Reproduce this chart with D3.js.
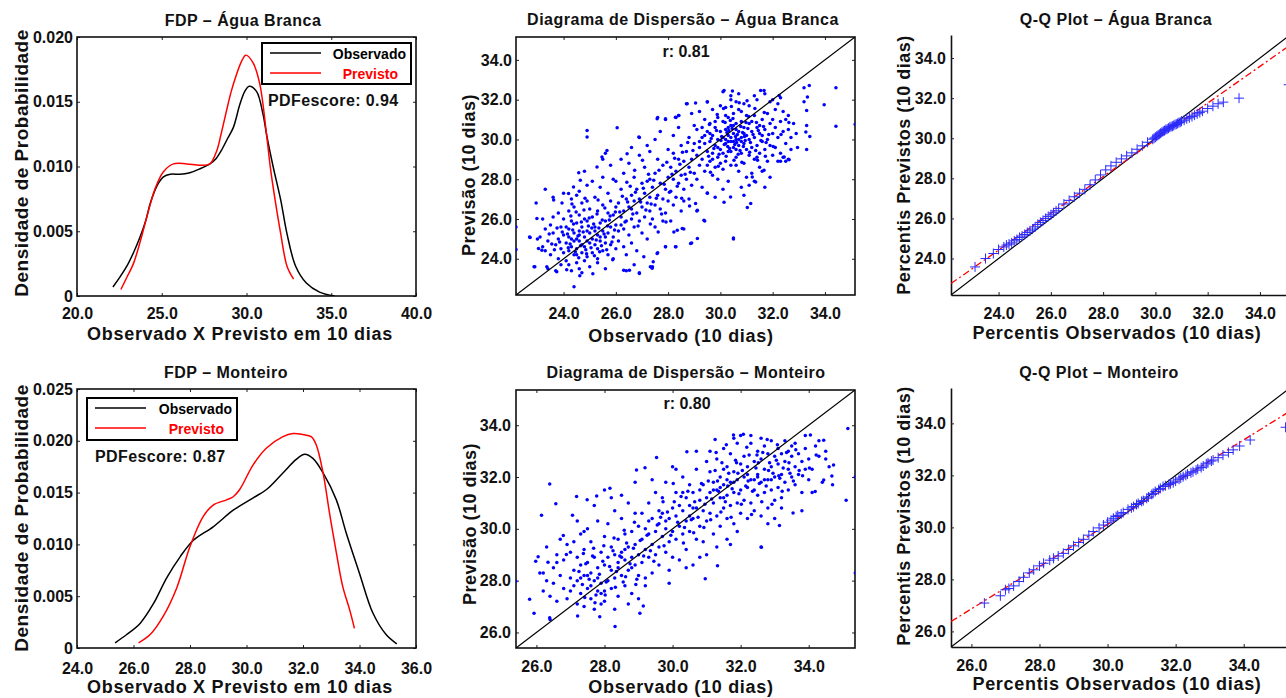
<!DOCTYPE html>
<html>
<head>
<meta charset="utf-8">
<script src="https://cdn.jsdelivr.net/npm/d3@7"></script>
<style>
body { margin: 0; background: #fff; }
</style>
</head>
<body>
<script>
// ---------- data ----------
var stations = ["Água Branca", "Monteiro"];
var legendLabels = ["Observado", "Previsto"];
var pdfScores = [0.94, 0.87];
var corrR = [0.81, 0.80];

// FDP curves: [temperatura, densidade]
var fdpAbObs = [[22.12,0.0007],[22.5,0.0014],[22.94,0.0023],[23.35,0.0034],[23.73,0.0046],[24.05,0.0058],[24.31,0.0071],[24.55,0.0080],[24.8,0.0087],[25.1,0.0092],[25.5,0.0094],[26.08,0.0094],[26.6,0.0095],[27.2,0.0098],[27.84,0.0102],[28.2,0.0106],[28.5,0.0112],[28.9,0.0122],[29.22,0.0130],[29.61,0.0148],[29.9,0.0158],[30.16,0.0162],[30.59,0.0158],[30.98,0.0140],[31.18,0.0125],[31.57,0.0100],[32.02,0.0074],[32.39,0.0048],[32.9,0.0023],[33.53,0.0010],[34.31,0.0003],[35.2,0.0000]];
var fdpAbPrev = [[22.59,0.0005],[23.0,0.0016],[23.33,0.0025],[23.75,0.0043],[24.12,0.0061],[24.61,0.0083],[25.1,0.0096],[25.69,0.0102],[26.47,0.0102],[27.25,0.0101],[27.84,0.0102],[28.24,0.0112],[28.5,0.0125],[28.82,0.0143],[29.1,0.0158],[29.41,0.0171],[29.7,0.0181],[29.96,0.0186],[30.39,0.0180],[30.78,0.0164],[31.18,0.0125],[31.41,0.0099],[31.69,0.0074],[32.02,0.0048],[32.39,0.0023],[32.78,0.0013]];
var fdpMoObs = [[25.35,0.0005],[25.76,0.0013],[26.24,0.0024],[26.71,0.0043],[27.18,0.0068],[27.65,0.0088],[28.12,0.0104],[28.82,0.0117],[29.53,0.0133],[30.24,0.0145],[30.71,0.0153],[31.29,0.0169],[31.76,0.0182],[32.06,0.0187],[32.35,0.0183],[32.71,0.0169],[33.18,0.0143],[33.53,0.0111],[34.0,0.0072],[34.47,0.0034],[34.94,0.0013],[35.32,0.0004]];
var fdpMoPrev = [[26.18,0.0005],[26.59,0.0013],[27.06,0.0031],[27.53,0.0058],[28.0,0.0098],[28.47,0.0127],[28.82,0.0138],[29.29,0.0143],[29.53,0.0146],[29.76,0.0153],[30.24,0.0177],[30.71,0.0193],[31.29,0.0204],[31.65,0.0207],[32.0,0.0206],[32.29,0.0204],[32.47,0.0196],[32.71,0.0169],[32.94,0.0130],[33.18,0.0092],[33.41,0.0059],[33.65,0.0037],[33.82,0.0019]];

// dispersao: [observado, previsto]
var scatAb = [
[23.1,25.1],[23.2,24.6],[23.3,24.4],[23.3,25.5],[23.4,24.9],[23.4,23.5],[23.5,25.7],[23.5,24.2],[23.6,25.3],[23.6,26.1],[23.7,24.7],[23.7,23.4],[23.8,25.0],[23.8,26.3],[23.8,24.0],[23.9,25.6],[23.9,24.5],[23.9,23.7],[24.0,26.0],[24.0,25.2],[24.0,24.3],[24.0,27.3],[23.6,27.1],[23.2,26.0],[23.0,25.0],[22.9,23.6],[22.7,25.1],
[24.1,24.8],[24.1,25.6],[24.1,23.9],[24.2,25.1],[24.2,26.4],[24.2,24.4],[24.3,25.9],[24.3,24.6],[24.3,23.4],[24.3,27.0],[24.4,25.3],[24.4,24.2],[24.4,26.6],[24.4,22.6],[24.5,25.0],[24.5,24.5],[24.5,25.8],[24.5,23.8],[24.6,26.2],[24.6,24.9],[24.6,25.4],[24.6,27.4],[24.7,24.3],[24.7,25.6],[24.7,23.3],[24.7,26.8],[24.8,25.1],[24.8,24.6],[24.8,26.0],[24.8,28.4],[24.9,25.4],[24.9,24.1],[24.9,25.9],[24.9,26.9],[25.0,24.8],[25.0,25.3],[25.0,23.6],[25.0,26.5],[24.2,25.5],[24.5,24.2],[24.7,24.7],[24.9,24.9],[24.3,25.0],[24.6,25.2],[24.4,24.9],[24.8,23.9],[24.6,23.5],[24.2,23.7],[24.9,27.7],[24.5,27.2],
[25.1,25.0],[25.1,24.3],[25.1,26.1],[25.2,24.7],[25.2,25.6],[25.2,27.1],[25.3,24.5],[25.3,25.2],[25.3,26.4],[25.3,23.8],[25.4,24.9],[25.4,25.8],[25.4,27.6],[25.5,24.4],[25.5,25.4],[25.5,26.7],[25.5,29.0],[25.6,24.8],[25.6,25.9],[25.6,23.5],[25.7,25.3],[25.7,26.3],[25.7,24.2],[25.7,27.3],[25.8,25.6],[25.8,24.7],[25.8,26.9],[25.9,25.1],[25.9,26.2],[25.9,28.0],[26.0,25.7],[26.0,24.5],[26.0,26.6],[26.0,27.9],[25.2,25.4],[25.4,25.1],[25.6,25.1],[25.3,24.0],[25.9,24.0],[25.5,28.1],[25.1,27.9],[25.8,28.7],[25.6,29.3],
[26.1,25.4],[26.1,26.8],[26.1,24.9],[26.2,26.1],[26.2,27.5],[26.2,25.7],[26.3,26.4],[26.3,24.6],[26.3,28.3],[26.4,25.9],[26.4,27.0],[26.4,23.4],[26.5,26.6],[26.5,25.2],[26.5,28.8],[26.6,27.2],[26.6,26.0],[26.6,24.8],[26.7,26.9],[26.7,25.6],[26.7,28.1],[26.8,27.5],[26.8,26.3],[26.8,24.4],[26.9,27.0],[26.9,25.9],[26.9,29.2],[27.0,26.6],[27.0,27.8],[27.0,25.3],[26.2,29.0],[26.6,29.6],[26.9,30.1],[26.4,24.2],[26.7,23.7],[26.9,23.3],[26.3,25.5],[26.6,26.5],
[27.1,27.3],[27.1,26.1],[27.1,28.6],[27.2,26.8],[27.2,25.0],[27.2,27.9],[27.3,27.1],[27.3,26.4],[27.3,29.4],[27.4,26.0],[27.4,27.6],[27.4,23.6],[27.5,26.7],[27.5,28.3],[27.5,25.6],[27.6,27.2],[27.6,29.0],[27.6,24.3],[27.7,26.5],[27.7,27.8],[27.7,30.4],[27.8,27.0],[27.8,25.9],[27.8,28.7],[27.9,26.3],[27.9,27.5],[27.9,24.6],[28.0,28.1],[28.0,26.9],[28.0,29.5],[27.3,28.0],[27.5,30.0],[27.9,31.0],[27.6,31.1],[27.2,29.7],
[28.1,27.4],[28.1,28.6],[28.1,25.9],[28.2,28.0],[28.2,29.3],[28.2,26.7],[28.3,28.4],[28.3,27.1],[28.3,24.6],[28.4,29.0],[28.4,27.8],[28.4,30.6],[28.5,28.2],[28.5,26.4],[28.5,29.7],[28.6,27.5],[28.6,28.9],[28.6,25.5],[28.7,29.4],[28.7,28.0],[28.7,31.8],[28.8,27.0],[28.8,28.6],[28.8,30.1],[28.9,29.0],[28.9,27.7],[28.9,24.8],[29.0,28.3],[29.0,29.8],[29.0,30.7],[28.4,31.2],[28.3,31.1],[28.9,31.3],[28.6,26.9],[28.2,30.2],
[29.1,29.2],[29.1,28.0],[29.1,30.5],[29.1,26.4],[29.2,29.6],[29.2,28.7],[29.2,31.4],[29.3,29.0],[29.3,30.1],[29.3,27.6],[29.4,29.8],[29.4,28.4],[29.4,31.0],[29.4,25.9],[29.5,29.4],[29.5,30.4],[29.5,27.3],[29.5,31.9],[29.6,28.9],[29.6,29.9],[29.6,30.8],[29.7,29.3],[29.7,28.2],[29.7,30.2],[29.7,31.5],[29.8,29.7],[29.8,28.6],[29.8,30.6],[29.8,27.1],[29.9,29.1],[29.9,30.0],[29.9,31.1],[29.9,28.0],[30.0,29.5],[30.0,30.4],[30.0,28.8],[30.0,31.7],[29.3,30.6],[29.6,30.3],[29.9,29.6],[29.5,28.7],[29.2,29.9],[29.7,29.0],[29.4,30.2],[29.8,30.9],
[30.1,30.1],[30.1,29.3],[30.1,30.9],[30.1,28.5],[30.1,32.4],[30.2,29.8],[30.2,30.5],[30.2,28.9],[30.2,31.6],[30.3,30.2],[30.3,29.4],[30.3,31.1],[30.3,27.9],[30.4,29.9],[30.4,30.7],[30.4,28.7],[30.4,32.2],[30.5,30.3],[30.5,29.6],[30.5,31.3],[30.5,25.0],[30.6,30.0],[30.6,29.1],[30.6,30.8],[30.6,31.9],[30.7,29.7],[30.7,30.4],[30.7,28.4],[30.7,31.5],[30.8,30.1],[30.8,29.3],[30.8,30.9],[30.8,27.6],[30.9,29.8],[30.9,30.6],[30.9,31.8],[30.9,28.8],[31.0,30.2],[31.0,29.5],[31.0,31.2],[31.0,28.1],[30.2,30.0],[30.3,29.9],[30.4,30.1],[30.5,29.9],[30.6,30.5],[30.7,30.0],[30.8,29.9],[30.9,30.3],[30.4,29.4],[30.6,29.5],[30.3,30.6],[30.5,30.7],[30.2,31.2],[30.8,31.4],[30.6,28.7],[30.1,27.5],[30.9,27.2],[30.4,32.0],[30.7,32.3],
[31.1,30.0],[31.1,29.2],[31.1,30.8],[31.1,31.7],[31.2,29.6],[31.2,30.4],[31.2,28.3],[31.3,30.1],[31.3,29.0],[31.3,31.2],[31.3,27.9],[31.4,29.7],[31.4,30.6],[31.4,32.0],[31.5,30.3],[31.5,29.3],[31.5,28.6],[31.6,29.9],[31.6,31.0],[31.6,28.4],[31.7,30.5],[31.7,29.5],[31.7,32.3],[31.8,30.0],[31.8,28.9],[31.8,31.3],[31.9,29.7],[31.9,30.8],[31.9,28.1],[32.0,30.3],[32.0,29.2],[32.0,31.0],[31.2,30.9],[31.5,30.7],[31.4,29.1],[31.6,30.2],[31.1,27.7],[31.7,27.6],[31.9,31.9],[31.3,32.2],
[32.1,30.6],[32.1,29.6],[32.1,31.5],[32.2,30.1],[32.2,28.9],[32.3,30.9],[32.3,29.3],[32.3,32.1],[32.4,30.4],[32.4,29.1],[32.5,31.0],[32.5,29.8],[32.5,28.9],[32.6,30.5],[32.6,29.0],[32.6,31.2],[32.7,30.1],[32.7,29.5],[32.8,30.8],[32.2,31.8],[32.4,31.4],[32.0,32.0],[32.9,30.3],[32.3,28.9],
[34.42,32.6],[34.42,30.66],[35.16,30.76],[33.97,31.74],[33.4,32.71],[33.2,32.6],[33.33,32.13],[33.2,31.9],[33.3,31.46],[33.3,30.7],[33.42,30.15],[33.27,30.37],[33.3,29.5],[32.95,29.6],[32.63,28.98],[32.44,29.12],[31.16,26.78],[31.03,26.58],[30.5,25.05],[29.37,25.94],[29.12,25.02],[28.86,24.77],[24.9,30.45],[24.9,30.12],[26.05,30.59],[22.18,25.6],[22.18,24.47],[23.3,27.5],[22.95,26.8],[26.9,23.26],[26.3,23.43],[26.52,23.43],[27.32,23.6],[27.39,23.52],[22.72,25.07],[22.87,23.6],[23.74,23.35],[23.36,23.6],[28.28,24.6],[27.9,24.6],[28.35,25.44],[28.54,25.52],[27.58,24.27],[27.43,23.85],[27.07,24.1],[23.04,24.52],[23.17,24.43],[22.98,26.02],[31.35,27.86],[31.22,28.11],[31.67,28.45],[30.39,27.11],[30.14,26.84],[29.5,27.31],[29.12,26.44],[29.05,26.78],[31.67,32.46],[30.14,32.46],[30.46,32.43],[31.54,32.46],[32.25,32.21],[28.73,31.79],[29.05,31.83],[29.5,31.88],[27.9,31.04],[28.28,31.12],[28.41,31.2],[27.58,31.04],[26.88,30.12],[26.43,29.28],[25.66,29.45],[25.47,29.12],[25.28,28.62],[24.58,28.33],[24.64,27.95],[24.38,27.61],[24.19,27.28],[23.94,26.8],[23.62,26.95],
[24.15,25.25],[24.25,24.75],[24.35,25.45],[24.45,24.35],[24.55,25.15],[24.65,24.65],[24.75,25.35],[24.85,24.45],[24.95,25.65],[25.05,24.55],[25.15,25.75],[25.25,24.95],[25.35,25.55],[25.45,24.65],[25.55,25.25],[25.65,24.45],[25.75,25.95],[25.85,24.85],[25.95,25.45],[24.18,24.55],[24.28,26.15],[24.38,25.75],[24.48,26.35],[24.58,24.05],[24.68,25.85],[24.78,26.45],[24.88,24.25],[24.98,26.05],[25.08,25.55],[25.18,24.15],[25.28,26.25],[25.38,24.35],[25.48,25.95],[25.58,26.55],[25.68,25.65],[25.78,26.15],[25.88,23.95],[25.98,26.35],[23.85,24.85],[23.95,25.35],[23.75,25.55],[23.65,24.45],[23.55,24.75],[23.45,25.25],[24.12,23.45],[24.62,23.15],[25.12,23.25],[24.32,26.75],[24.82,27.05],[25.32,26.95],
[26.15,26.35],[26.25,27.15],[26.35,25.85],[26.45,26.85],[26.55,27.65],[26.65,26.25],[26.75,27.35],[26.85,25.65],[26.95,26.85],[27.05,27.55],[27.15,26.45],[27.25,28.25],[27.35,26.75],[27.45,27.95],[27.55,27.05],[27.65,28.45],[27.75,26.25],[27.85,27.75],[27.95,28.85],[28.05,27.35],[28.15,28.25],[28.25,29.05],[28.35,27.65],[28.45,28.75],[28.55,29.35],[28.65,28.25],[28.75,29.85],[28.85,28.35],[28.95,29.45],[26.42,27.85],[26.72,28.45],[27.02,28.95],[27.32,25.75],[27.62,25.35],[27.92,25.85],[28.22,25.35],[28.52,27.05],[28.82,26.65],
[29.55,29.15],[29.65,30.05],[29.75,29.55],[29.85,30.45],[29.95,29.25],[30.05,30.15],[30.15,29.75],[30.25,30.35],[30.35,29.55],[30.45,30.55],[30.55,29.75],[30.65,30.25],[30.75,29.45],[30.85,30.35],[30.95,29.95],[31.05,30.55],[31.15,29.85],[31.25,30.25],[31.35,29.45],[31.45,30.45],[31.55,29.95],[31.65,30.65],[31.75,29.85],[31.85,30.25],[29.58,30.75],[29.88,31.25],[30.18,30.85],[30.48,31.05],[30.78,30.65],[31.08,31.15],[31.38,30.85],[31.68,31.35],[29.62,28.35],[29.92,28.65],[30.22,29.15],[30.52,28.95],[30.82,28.85],[31.12,29.35],[31.42,28.95],[31.72,29.15],[32.02,29.65],[32.32,30.25],[32.62,30.85],[30.12,31.55],[30.42,31.65],[30.72,31.85],[31.02,31.95],[31.32,31.55],[30.28,29.65],[30.58,30.15],[30.88,29.65],[30.38,30.95],[30.68,29.25],[30.98,30.85],[30.02,29.95],[30.32,30.45],[30.62,29.85],[30.92,30.15]
];
var scatMo = [
[26.1,28.3],[26.2,27.6],[26.3,28.0],[26.4,27.4],[26.5,28.5],[26.5,27.9],[26.6,29.0],[26.6,27.2],[26.7,28.2],[26.8,27.7],[26.8,28.8],[26.9,27.3],[26.9,29.4],[27.0,28.1],[27.0,27.6],[27.0,29.1],[26.3,29.3],[26.7,29.6],[26.4,26.5],[26.6,28.7],
[27.1,28.4],[27.1,27.8],[27.1,29.5],[27.2,28.0],[27.2,27.1],[27.2,28.9],[27.3,28.6],[27.3,27.5],[27.3,29.8],[27.4,28.2],[27.4,27.0],[27.4,29.2],[27.5,28.7],[27.5,27.7],[27.5,30.0],[27.6,28.3],[27.6,27.3],[27.6,29.5],[27.7,28.0],[27.7,28.9],[27.7,26.9],[27.8,28.5],[27.8,27.6],[27.8,30.3],[27.9,27.9],[27.9,29.1],[27.9,27.1],[28.0,28.6],[28.0,27.6],[28.0,29.7],[27.3,28.1],[27.5,28.2],[27.8,28.1],[27.6,27.8],[27.9,27.5],[28.0,27.2],[27.2,30.3],[27.7,30.9],[28.0,31.5],[27.4,29.9],
[28.1,28.9],[28.1,28.0],[28.1,30.2],[28.2,29.3],[28.2,27.7],[28.2,28.4],[28.3,29.0],[28.3,28.1],[28.3,30.7],[28.4,28.7],[28.4,29.6],[28.4,27.4],[28.5,29.1],[28.5,28.2],[28.5,30.4],[28.6,28.8],[28.6,29.8],[28.6,27.8],[28.7,29.3],[28.7,28.4],[28.7,31.0],[28.8,28.9],[28.8,29.9],[28.8,27.5],[28.9,29.4],[28.9,28.6],[28.9,30.6],[29.0,29.0],[29.0,28.2],[29.0,30.1],[28.5,28.9],[28.6,29.2],[28.4,28.5],[28.8,28.5],[28.2,31.2],[28.9,31.8],[28.3,26.9],[28.7,27.1],[29.0,27.3],[28.5,31.3],
[29.1,29.6],[29.1,28.7],[29.1,30.6],[29.2,29.2],[29.2,30.0],[29.2,28.1],[29.3,29.8],[29.3,28.9],[29.3,31.0],[29.4,29.4],[29.4,30.4],[29.4,28.3],[29.5,29.9],[29.5,29.0],[29.5,31.4],[29.6,30.2],[29.6,29.3],[29.6,28.6],[29.7,30.6],[29.7,29.7],[29.7,31.2],[29.8,30.0],[29.8,29.1],[29.8,31.8],[29.9,30.4],[29.9,29.5],[29.9,28.4],[30.0,30.8],[30.0,29.9],[30.0,28.9],[29.3,30.3],[29.6,30.7],[29.8,30.3],[29.4,31.9],[30.0,32.4],[29.2,27.8],[29.9,27.9],
[30.1,30.5],[30.1,29.6],[30.1,31.4],[30.2,30.1],[30.2,30.9],[30.2,28.8],[30.3,30.7],[30.3,29.8],[30.3,32.0],[30.4,30.3],[30.4,31.2],[30.4,29.2],[30.5,30.9],[30.5,29.9],[30.5,31.7],[30.6,30.4],[30.6,31.4],[30.6,28.6],[30.7,30.8],[30.7,29.6],[30.7,32.3],[30.8,31.1],[30.8,30.1],[30.8,28.9],[30.9,30.7],[30.9,31.7],[30.9,29.5],[31.0,31.2],[31.0,30.3],[31.0,32.6],[30.3,31.4],[30.6,30.8],[30.8,31.5],[30.4,28.5],[31.0,29.0],[30.7,33.0],[30.1,32.3],[30.5,30.5],
[31.1,31.4],[31.1,30.6],[31.1,32.2],[31.2,31.0],[31.2,31.8],[31.2,29.8],[31.3,31.5],[31.3,30.5],[31.3,32.7],[31.4,31.2],[31.4,32.0],[31.4,30.1],[31.5,31.7],[31.5,30.8],[31.5,33.1],[31.6,31.3],[31.6,32.4],[31.6,29.6],[31.7,31.8],[31.7,30.9],[31.7,32.9],[31.8,31.4],[31.8,32.2],[31.8,30.2],[31.9,31.9],[31.9,31.0],[31.9,33.3],[32.0,31.5],[32.0,32.5],[32.0,30.6],[31.2,31.5],[31.4,31.6],[31.6,31.9],[31.8,31.8],[31.5,32.3],[31.3,29.3],[31.7,29.4],[31.9,29.9],[31.1,33.0],[31.5,31.2],[31.8,33.5],[31.6,30.4],
[32.1,32.0],[32.1,31.1],[32.1,32.8],[32.2,31.6],[32.2,32.4],[32.2,30.4],[32.3,31.9],[32.3,31.0],[32.3,33.3],[32.4,31.5],[32.4,32.6],[32.4,30.7],[32.5,32.1],[32.5,31.3],[32.5,33.0],[32.6,31.8],[32.6,32.7],[32.6,30.5],[32.7,32.3],[32.7,31.4],[32.7,33.2],[32.8,31.9],[32.8,32.9],[32.8,30.8],[32.9,32.4],[32.9,31.5],[32.9,33.4],[33.0,32.0],[33.0,31.1],[33.0,32.8],[32.2,32.1],[32.5,32.0],[32.7,31.9],[32.4,31.9],[32.9,31.9],[32.3,33.6],[32.6,29.3],[32.8,30.2],[32.0,33.6],[32.6,33.5],
[33.1,32.5],[33.1,31.6],[33.1,33.1],[33.2,32.1],[33.2,32.9],[33.2,31.2],[33.3,32.6],[33.3,31.8],[33.3,33.4],[33.4,32.3],[33.4,31.5],[33.5,32.8],[33.5,32.0],[33.5,33.2],[33.6,32.4],[33.6,31.7],[33.7,32.9],[33.7,32.1],[33.8,32.6],[33.8,31.4],[33.9,32.3],[33.9,33.1],[34.0,32.7],[34.0,31.9],[33.4,33.0],[33.6,33.3],[33.2,30.8],[33.8,30.7],[33.0,30.4],[33.9,33.6],
[34.1,32.3],[34.2,33.2],[34.3,32.8],[34.4,31.8],[34.5,32.7],[34.6,32.4],[34.7,31.7],[34.1,31.4],[34.3,33.4],[34.5,33.0],
[35.15,33.87],[35.1,31.1],[35.37,28.3],[35.37,32.0],[25.39,27.98],[26.39,31.73],[26.57,30.97],[26.15,30.52],[25.8,27.28],[25.93,26.74],[25.98,28.75],[26.05,28.92],[26.39,26.57],[28.31,26.23],[27.86,26.61],[27.21,26.64],[29.04,26.74],[29.14,27.02],[30.96,28.07],[31.32,28.58],[32.61,29.29],[33.14,30.13],[33.54,30.61],[34.19,31.44],[34.44,31.89],[34.68,32.04],[34.73,32.46],[34.44,33.42],[34.05,33.62],[32.08,33.65],[31.79,33.62],[31.25,33.45],[30.42,32.98],[29.53,32.75],[29.19,32.36],[28.94,32.27],[28.16,31.57],[27.77,31.27],[27.49,31.12],[27.18,31.25],[27.06,30.52],[26.79,29.74],[26.88,29.01],[26.34,28.71],[26.2,28.3],
[27.25,28.35],[27.35,27.85],[27.45,28.65],[27.55,28.05],[27.65,28.95],[27.75,27.45],[27.85,28.25],[27.95,28.75],[28.05,27.95],[28.15,28.55],[28.25,29.15],[28.35,28.35],[28.45,28.95],[28.55,27.95],[28.65,29.45],[28.75,28.65],[28.85,29.25],[28.95,28.05],[29.05,29.55],[29.15,28.95],[29.25,29.75],[29.35,29.15],[29.45,28.75],[29.55,30.15],[27.38,29.05],[27.68,29.25],[27.98,29.35],[28.28,29.65],[28.58,29.95],[28.88,30.25],[27.42,27.35],[27.72,27.15],[28.02,27.45],[28.32,27.75],[28.62,28.15],[28.92,27.85],
[29.65,30.45],[29.75,29.35],[29.85,30.65],[29.95,29.75],[30.05,31.05],[30.15,30.25],[30.25,31.25],[30.35,30.05],[30.45,31.45],[30.55,30.35],[30.65,31.05],[30.75,30.45],[30.85,31.75],[30.95,30.95],[29.72,31.05],[30.02,31.75],[30.32,29.45],[30.62,29.85],[30.92,30.05],
[31.05,31.85],[31.15,31.15],[31.25,32.25],[31.35,31.45],[31.45,32.55],[31.55,31.05],[31.65,32.15],[31.75,31.55],[31.85,32.65],[31.95,31.35],[32.05,32.25],[32.15,31.65],[32.25,32.85],[32.35,31.45],[32.45,32.35],[32.55,31.75],[32.65,32.95],[32.75,31.65],[32.85,32.55],[32.95,32.15],[33.05,32.65],[33.15,31.95],[33.25,32.35],[33.35,32.95],[33.45,32.15],[33.55,31.85],[31.12,30.35],[31.42,30.65],[31.72,30.45],[32.02,30.95],[32.32,30.55],[32.62,31.05],[32.92,30.95],[33.22,31.45],[31.28,32.95],[31.58,33.25],[31.88,32.55],[32.18,33.15],[32.48,32.85],[32.78,33.45],[33.08,33.25],[31.32,31.85],[31.62,31.65],[31.92,32.15],[32.22,31.85],[32.52,32.55],[32.82,32.25],[33.12,32.05],[33.42,32.55],[33.72,32.25],[34.02,32.35],[34.22,32.85],[33.62,33.05],[33.82,32.05]
];

// Q-Q: [percentil observado, percentil previsto]
var qqAb = [[23.1,23.58],[23.5,24.0],[23.8,24.25],[24.0,24.45],[24.2,24.58],[24.3,24.67],[24.4,24.72],[24.5,24.78],[24.6,24.88],[24.7,24.95],[24.8,25.05],[24.9,25.12],[25.0,25.2],[25.1,25.3],[25.2,25.38],[25.3,25.47],[25.4,25.58],[25.5,25.7],[25.6,25.8],[25.7,25.9],[25.8,26.0],[25.9,26.1],[26.0,26.18],[26.1,26.28],[26.2,26.38],[26.3,26.5],[26.5,26.72],[26.7,26.9],[26.9,27.08],[27.1,27.26],[27.3,27.45],[27.5,27.68],[27.7,27.92],[27.9,28.17],[28.1,28.42],[28.3,28.62],[28.5,28.8],[28.7,28.97],[28.9,29.12],[29.1,29.27],[29.3,29.45],[29.5,29.62],[29.7,29.8],[29.9,29.95],[29.95,30.0],[30.0,30.05],[30.05,30.1],[30.1,30.15],[30.15,30.2],[30.2,30.25],[30.25,30.3],[30.3,30.35],[30.35,30.38],[30.4,30.43],[30.45,30.46],[30.5,30.5],[30.55,30.55],[30.6,30.58],[30.65,30.6],[30.7,30.64],[30.75,30.68],[30.8,30.7],[30.85,30.74],[30.9,30.78],[30.95,30.8],[31.0,30.85],[31.1,30.9],[31.2,30.97],[31.3,31.02],[31.4,31.08],[31.5,31.15],[31.6,31.22],[31.7,31.28],[31.8,31.35],[32.0,31.48],[32.2,31.6],[32.4,31.72],[32.6,31.8],[33.2,32.0],[35.1,32.67]];
var qqMo = [[26.38,27.09],[26.85,27.37],[27.0,27.6],[27.1,27.65],[27.24,27.75],[27.4,27.92],[27.53,28.08],[27.7,28.25],[27.83,28.37],[28.0,28.52],[28.12,28.62],[28.3,28.74],[28.41,28.81],[28.55,28.9],[28.7,29.0],[28.85,29.15],[29.0,29.29],[29.15,29.42],[29.29,29.54],[29.45,29.7],[29.58,29.84],[29.75,29.98],[29.88,30.09],[30.0,30.2],[30.1,30.28],[30.17,30.35],[30.25,30.42],[30.3,30.46],[30.4,30.52],[30.46,30.57],[30.6,30.69],[30.7,30.75],[30.76,30.8],[30.85,30.88],[30.9,30.92],[31.0,31.0],[31.05,31.03],[31.15,31.12],[31.2,31.17],[31.3,31.27],[31.34,31.31],[31.4,31.38],[31.5,31.45],[31.55,31.5],[31.63,31.57],[31.7,31.6],[31.8,31.65],[31.85,31.68],[31.93,31.72],[32.0,31.78],[32.1,31.85],[32.15,31.9],[32.22,31.95],[32.3,32.0],[32.35,32.05],[32.45,32.1],[32.51,32.14],[32.6,32.2],[32.65,32.25],[32.75,32.3],[32.81,32.36],[32.9,32.44],[32.95,32.48],[33.05,32.55],[33.1,32.59],[33.25,32.68],[33.39,32.78],[33.55,32.88],[33.69,32.98],[33.88,33.13],[34.19,33.36],[35.23,33.85]];
// reta ajustada (traco-ponto)
var qqAbFit = [[22.18,22.75],[35.15,34.64]];
var qqMoFit = [[25.4,26.38],[35.36,34.47]];

// eixos
var fdpAbXTicks = [20,25,30,35,40];
var fdpAbYTicks = [0,0.005,0.010,0.015,0.020];
var fdpMoXTicks = [24,26,28,30,32,34,36];
var fdpMoYTicks = [0,0.005,0.010,0.015,0.020,0.025];
var abTicks = [24,26,28,30,32,34];
var moTicks = [26,28,30,32,34];
var abDomain = [22.18,35.15];
var moDomain = [25.4,35.36];

// ---------- drawing ----------
var FONT = '"Liberation Sans", Arial, sans-serif';
var W = 1286, H = 698;
var svg = d3.select("body").append("svg").attr("width", W).attr("height", H);
svg.append("rect").attr("width", W).attr("height", H).attr("fill", "#fff");
var defs = svg.append("defs");

var fmt1 = d3.format(".1f");
var fmtDens = function(d){ return d === 0 ? "0" : d3.format(".3f")(d); };

function label(g, txt, x, y, size, opts) {
  opts = opts || {};
  var t = g.append("text")
    .attr("x", x).attr("y", y)
    .attr("font-family", FONT).attr("font-weight", "bold")
    .attr("font-size", size)
    .attr("letter-spacing", opts.ls || 0)
    .attr("text-anchor", opts.anchor || "middle")
    .attr("fill", opts.color || "#111")
    .text(txt);
  if (opts.rotate) t.attr("transform", "rotate(-90," + x + "," + y + ")");
  return t;
}

function drawPanel(p) {
  var g = svg.append("g");
  var x = d3.scaleLinear().domain(p.xDomain).range([p.x0, p.x1]);
  var y = d3.scaleLinear().domain(p.yDomain).range([p.y1, p.y0]);

  defs.append("clipPath").attr("id", "clip-" + p.id)
    .append("rect").attr("x", p.x0).attr("y", p.y0)
    .attr("width", p.x1 - p.x0).attr("height", p.y1 - p.y0);

  g.append("g").attr("transform", "translate(0," + p.y1 + ")")
    .call(d3.axisBottom(x).tickValues(p.xTicks).tickFormat(p.xFmt)
      .tickSize(-3).tickSizeOuter(0).tickPadding(p.xPad));
  g.append("g").attr("transform", "translate(" + p.x0 + ",0)")
    .call(d3.axisLeft(y).tickValues(p.yTicks).tickFormat(p.yFmt)
      .tickSize(-3).tickSizeOuter(0).tickPadding(p.yPad));

  if (p.box) {
    g.append("g").attr("transform", "translate(0," + p.y0 + ")")
      .call(d3.axisTop(x).tickValues(p.xTicks).tickFormat("").tickSize(-3).tickSizeOuter(0));
    g.append("g").attr("transform", "translate(" + p.x1 + ",0)")
      .call(d3.axisRight(y).tickValues(p.yTicks).tickFormat("").tickSize(-3).tickSizeOuter(0));
    g.selectAll(".domain").remove();
    g.append("rect").attr("x", p.x0).attr("y", p.y0)
      .attr("width", p.x1 - p.x0).attr("height", p.y1 - p.y0)
      .attr("fill", "none").attr("stroke", "#111").attr("stroke-width", 1.6);
  } else {
    g.selectAll(".domain").attr("stroke", "#111").attr("stroke-width", 1.6);
  }
  g.selectAll(".tick line").attr("stroke", "#222").attr("stroke-width", 1);
  g.selectAll(".tick text")
    .attr("font-size", 16).attr("font-family", FONT)
    .attr("font-weight", "bold").attr("fill", "#111");

  label(g, p.title, p.title_x, p.title_y, 16, {ls: 0.5});
  label(g, p.xLabel, p.xl_x, p.xl_y, 18, {ls: 0.7});
  label(g, p.yLabel, p.yl_x, p.yl_y, p.ylSize || 18, {ls: 0.5, rotate: true});

  var plot = g.append("g").attr("clip-path", "url(#clip-" + p.id + ")");
  return {g: g, plot: plot, x: x, y: y};
}

function drawFdp(p, obs, prev, score) {
  var c = drawPanel(p);
  var line = d3.line().x(function(d){ return c.x(d[0]); }).y(function(d){ return c.y(d[1]); })
    .curve(d3.curveCatmullRom.alpha(0.5));
  c.plot.append("path").datum(obs).attr("d", line)
    .attr("fill", "none").attr("stroke", "#000").attr("stroke-width", 1.5);
  c.plot.append("path").datum(prev).attr("d", line)
    .attr("fill", "none").attr("stroke", "#f00").attr("stroke-width", 1.5);

  var L = p.legend;
  var lg = c.g.append("g");
  lg.append("rect").attr("x", L.x).attr("y", L.y).attr("width", L.w).attr("height", L.h)
    .attr("fill", "#fff").attr("stroke", "#000").attr("stroke-width", 2);
  var colors = ["#000", "#f00"];
  legendLabels.forEach(function(name, i) {
    var ly = L.y + 10 + i * 20;
    lg.append("line").attr("x1", L.x + 8).attr("x2", L.x + 59)
      .attr("y1", ly).attr("y2", ly)
      .attr("stroke", colors[i]).attr("stroke-width", 1.5);
    label(lg, name, L.x + L.w - (i === 0 ? 5 : 13), ly + 6, 14, {anchor: "end", color: colors[i]});
  });
  label(c.g, "PDFescore: " + score.toFixed(2), L.sx, L.sy, 16, {anchor: "start", ls: 0.4});
}

function drawScatter(p, pts, r) {
  var c = drawPanel(p);
  c.plot.selectAll("circle").data(pts).enter().append("circle")
    .attr("cx", function(d){ return c.x(d[0]); })
    .attr("cy", function(d){ return c.y(d[1]); })
    .attr("r", 1.75).attr("fill", "#0000ff");
  c.plot.append("line")
    .attr("x1", c.x(p.xDomain[0])).attr("y1", c.y(p.xDomain[0]))
    .attr("x2", c.x(p.xDomain[1])).attr("y2", c.y(p.xDomain[1]))
    .attr("stroke", "#000").attr("stroke-width", 1.2);
  label(c.g, "r: " + r.toFixed(2), p.r_x, p.r_y, 16, {});
}

function drawQQ(p, pts, fit) {
  var c = drawPanel(p);
  c.plot.append("line")
    .attr("x1", c.x(p.xDomain[0])).attr("y1", c.y(p.xDomain[0]))
    .attr("x2", c.x(p.xDomain[1])).attr("y2", c.y(p.xDomain[1]))
    .attr("stroke", "#000").attr("stroke-width", 1.2);
  c.plot.append("line")
    .attr("x1", c.x(fit[0][0])).attr("y1", c.y(fit[0][1]))
    .attr("x2", c.x(fit[1][0])).attr("y2", c.y(fit[1][1]))
    .attr("stroke", "#f00").attr("stroke-width", 1.3)
    .attr("stroke-dasharray", "7,3,2,3");
  c.plot.selectAll("path.mk").data(pts).enter().append("path")
    .attr("class", "mk")
    .attr("transform", function(d){ return "translate(" + c.x(d[0]) + "," + c.y(d[1]) + ")"; })
    .attr("d", "M-5,0H5M0,-5V5")
    .attr("stroke", "#2a2aff").attr("stroke-width", 1).attr("fill", "none");
}

// linha superior - Agua Branca
drawFdp({id: "fdp1", x0: 77, x1: 416, y0: 37, y1: 296, xDomain: [20, 40], yDomain: [0, 0.02],
  xTicks: fdpAbXTicks, yTicks: fdpAbYTicks, xFmt: fmt1, yFmt: fmtDens, xPad: 12, yPad: 4, box: true,
  title: "FDP – " + stations[0], title_x: 243, title_y: 26,
  xLabel: "Observado X Previsto em 10 dias", xl_x: 240, xl_y: 340,
  yLabel: "Densidade de Probabilidade", yl_x: 28, yl_y: 163, ylSize: 19,
  legend: {x: 262, y: 43, w: 149, h: 41, sx: 268, sy: 106}}, fdpAbObs, fdpAbPrev, pdfScores[0]);

drawScatter({id: "sc1", x0: 516, x1: 855, y0: 37, y1: 295, xDomain: abDomain, yDomain: abDomain,
  xTicks: abTicks, yTicks: abTicks, xFmt: fmt1, yFmt: fmt1, xPad: 13, yPad: 4, box: true,
  title: "Diagrama de Dispersão – " + stations[0], title_x: 683, title_y: 25,
  xLabel: "Observado (10 dias)", xl_x: 681, xl_y: 342,
  yLabel: "Previsão (10 dias)", yl_x: 475, yl_y: 175,
  r_x: 686, r_y: 57}, scatAb, corrR[0]);

drawQQ({id: "qq1", x0: 951, x1: 1290, y0: 35, y1: 295, xDomain: abDomain, yDomain: abDomain,
  xTicks: abTicks, yTicks: abTicks, xFmt: fmt1, yFmt: fmt1, xPad: 13, yPad: 5, box: false,
  title: "Q-Q Plot – " + stations[0], title_x: 1116, title_y: 25,
  xLabel: "Percentis Observados (10 dias)", xl_x: 1117, xl_y: 339,
  yLabel: "Percentis Previstos (10 dias)", yl_x: 910, yl_y: 165}, qqAb, qqAbFit);

// linha inferior - Monteiro
drawFdp({id: "fdp2", x0: 77, x1: 416, y0: 389, y1: 648, xDomain: [24, 36], yDomain: [0, 0.025],
  xTicks: fdpMoXTicks, yTicks: fdpMoYTicks, xFmt: fmt1, yFmt: fmtDens, xPad: 15, yPad: 4, box: true,
  title: "FDP – " + stations[1], title_x: 226, title_y: 378,
  xLabel: "Observado X Previsto em 10 dias", xl_x: 240, xl_y: 693,
  yLabel: "Densidade de Probabilidade", yl_x: 28, yl_y: 518, ylSize: 19,
  legend: {x: 87, y: 398, w: 150, h: 42, sx: 95, sy: 462}}, fdpMoObs, fdpMoPrev, pdfScores[1]);

drawScatter({id: "sc2", x0: 516, x1: 855, y0: 390, y1: 648, xDomain: moDomain, yDomain: moDomain,
  xTicks: moTicks, yTicks: moTicks, xFmt: fmt1, yFmt: fmt1, xPad: 13, yPad: 5, box: true,
  title: "Diagrama de Dispersão – " + stations[1], title_x: 686, title_y: 378,
  xLabel: "Observado (10 dias)", xl_x: 681, xl_y: 693,
  yLabel: "Previsão (10 dias)", yl_x: 476, yl_y: 524,
  r_x: 687, r_y: 409}, scatMo, corrR[1]);

drawQQ({id: "qq2", x0: 951, x1: 1290, y0: 388, y1: 647, xDomain: moDomain, yDomain: moDomain,
  xTicks: moTicks, yTicks: moTicks, xFmt: fmt1, yFmt: fmt1, xPad: 13, yPad: 5, box: false,
  title: "Q-Q Plot – " + stations[1], title_x: 1099, title_y: 378,
  xLabel: "Percentis Observados (10 dias)", xl_x: 1117, xl_y: 690,
  yLabel: "Percentis Previstos (10 dias)", yl_x: 910, yl_y: 516}, qqMo, qqMoFit);
</script>
</body>
</html>
